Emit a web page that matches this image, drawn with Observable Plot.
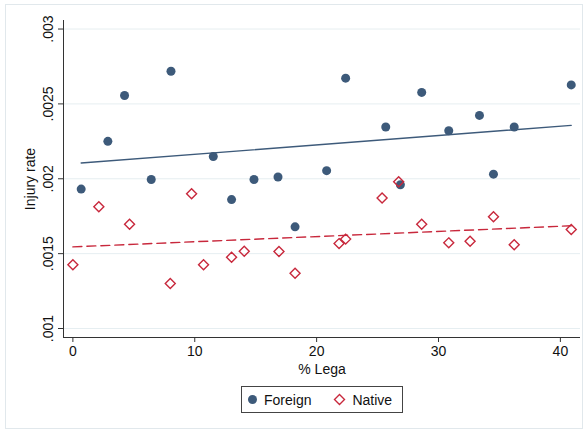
<!DOCTYPE html>
<html>
<head>
<meta charset="utf-8">
<script src="https://cdn.jsdelivr.net/npm/d3@7"></script>
<script src="https://cdn.jsdelivr.net/npm/@observablehq/plot@0.6"></script>
<style>
  html, body { margin: 0; padding: 0; background: #fff; }
  #wrap { position: relative; width: 586px; height: 431px; overflow: hidden; font-family: "Liberation Sans", Arial, sans-serif; }
  #frame { position: absolute; left: 5px; top: 4px; width: 578px; height: 425px; border: 1px solid #e1e8ec; box-sizing: border-box; }
  #chart { position: absolute; left: 0; top: 0; }
  #legend { position: absolute; left: 241px; top: 386px; width: 162px; height: 27px; border: 1px solid #444; box-sizing: border-box; display: flex; align-items: center; font-size: 14px; color: #111; background: #fff; }
  #legend .item { display: flex; align-items: center; }
  #legend svg { display: block; }
</style>
</head>
<body>
<div id="wrap">
  <div id="frame"></div>
  <div id="chart"></div>
  <div id="legend"></div>
</div>
<script>
// Foreign series
const foreignX = [0.68, 2.87, 4.24, 6.43, 8.05, 11.52, 13.02, 14.86, 16.83, 18.23, 20.82, 22.38, 25.67, 26.87, 28.62, 30.84, 33.36, 34.51, 36.21, 40.89];
const foreignY = [0.001931, 0.00225, 0.002556, 0.001995, 0.002718, 0.002149, 0.001861, 0.001995, 0.002012, 0.001679, 0.002054, 0.002672, 0.002346, 0.00196, 0.002577, 0.002321, 0.002423, 0.002031, 0.002346, 0.002627];
// Native series
const nativeX = [0, 2.13, 4.65, 7.99, 9.74, 10.72, 13.02, 14.06, 16.91, 18.23, 21.84, 22.38, 25.37, 26.73, 28.62, 30.84, 32.59, 34.51, 36.21, 40.89];
const nativeY = [0.001426, 0.001813, 0.001697, 0.0013, 0.0019, 0.001426, 0.001476, 0.001516, 0.001514, 0.001369, 0.001567, 0.001597, 0.001871, 0.00198, 0.001697, 0.001572, 0.001583, 0.001746, 0.00156, 0.001661];
// Axes
const xTicks = [0, 10, 20, 30, 40];
const yTicks = [0.001, 0.0015, 0.002, 0.0025, 0.003];
const yTickLabels = [".001", ".0015", ".002", ".0025", ".003"];
const xTitle = "% Lega";
const yTitle = "Injury rate";
const seriesNames = ["Foreign", "Native"];

const foreignColor = "#3d5a7a";
const nativeColor = "#c8283c";

const foreign = foreignX.map((x, i) => ({x, y: foreignY[i]}));
const native = nativeX.map((x, i) => ({x, y: nativeY[i]}));
const yLabelMap = new Map(yTicks.map((t, i) => [t, yTickLabels[i]]));

const chart = Plot.plot({
  width: 586,
  height: 380,
  marginLeft: 63,
  marginRight: 6,
  marginTop: 20,
  marginBottom: 43,
  style: {fontFamily: '"Liberation Sans", Arial, sans-serif', fontSize: "14px", color: "#111", background: "transparent"},
  x: {domain: [-0.77, 41.65]},
  y: {domain: [0.00094, 0.003057]},
  marks: [
    Plot.gridY(yTicks, {stroke: "#e6eef1", strokeOpacity: 1, strokeWidth: 1}),
    Plot.ruleX([-0.77], {stroke: "#333", strokeWidth: 1}),
    Plot.ruleY([0.00094], {stroke: "#333", strokeWidth: 1}),
    Plot.axisX(xTicks, {tickSize: 5, tickPadding: 4, stroke: "#333", label: null, fontSize: 14}),
    Plot.axisY(yTicks, {tickSize: 5, tickPadding: 6, tickRotate: -90, stroke: "#333", label: null, fontSize: 14, tickFormat: d => yLabelMap.get(d)}),
    Plot.text([xTitle], {frameAnchor: "bottom", dy: 32, fontSize: 14, lineAnchor: "middle"}),
    Plot.text([yTitle], {frameAnchor: "left", dx: -33, rotate: -90, fontSize: 14, lineAnchor: "middle", textAnchor: "middle"}),
    Plot.linearRegressionY(foreign, {x: "x", y: "y", ci: 0, stroke: foreignColor, strokeWidth: 1.4}),
    Plot.linearRegressionY(native, {x: "x", y: "y", ci: 0, stroke: nativeColor, strokeWidth: 1.4, strokeDasharray: "9,5"}),
    Plot.dot(foreign, {x: "x", y: "y", r: 4.5, fill: foreignColor, stroke: "none", symbol: "circle"}),
    Plot.dot(native, {x: "x", y: "y", r: 4.5, fill: "none", stroke: nativeColor, strokeWidth: 1.4, symbol: "diamond2"})
  ]
});
document.getElementById("chart").appendChild(chart);

// Legend
const legend = document.getElementById("legend");
legend.innerHTML = `
  <div class="item" style="margin-left:5px">
    <svg width="11" height="11"><circle cx="5.5" cy="5.5" r="4.5" fill="${foreignColor}"/></svg>
    <span style="margin-left:6px">${seriesNames[0]}</span>
  </div>
  <div class="item" style="margin-left:22px">
    <svg width="13" height="13"><path d="M6.5 1.5 L11.5 6.5 L6.5 11.5 L1.5 6.5 Z" fill="none" stroke="${nativeColor}" stroke-width="1.4"/></svg>
    <span style="margin-left:6px">${seriesNames[1]}</span>
  </div>`;
</script>
</body>
</html>
